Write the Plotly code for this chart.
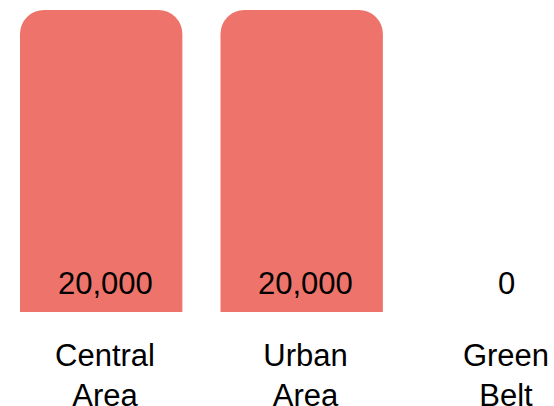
import plotly.graph_objects as go

categories = ["Central<br>Area", "Urban<br>Area", "Green<br>Belt"]
values = [20000, 20000, 0]
value_labels = ["20,000", "20,000", "0"]

BAR_COLOR = "rgb(238,116,107)"
FONT = "Liberation Sans, Arial, sans-serif"

fig = go.Figure()
fig.add_trace(go.Bar(
    x=categories, y=values,
    marker=dict(color=BAR_COLOR, cornerradius=24, line=dict(width=0)),
    width=0.81, offset=-0.424,
    hoverinfo="skip",
))

for cat, lab in zip(categories, value_labels):
    fig.add_annotation(
        x=cat, y=0, xref="x", yref="y", text=lab, showarrow=False,
        xanchor="center", yanchor="bottom", yshift=9,
        font=dict(family=FONT, size=31, color="black"),
    )

fig.update_layout(
    width=554, height=406,
    margin=dict(l=0, r=0, t=10, b=94),
    paper_bgcolor="white", plot_bgcolor="white",
    showlegend=False,
    font=dict(family=FONT, size=31, color="black"),
    xaxis=dict(range=[-0.5237, 2.2394], showgrid=False, zeroline=False,
               showline=False, ticks="", ticklabelstandoff=22, automargin=False,
               tickfont=dict(size=31, color="black")),
    yaxis=dict(range=[0, 20000], visible=False, showgrid=False, zeroline=False,
               automargin=False),
)

fig.write_html("out.html")
